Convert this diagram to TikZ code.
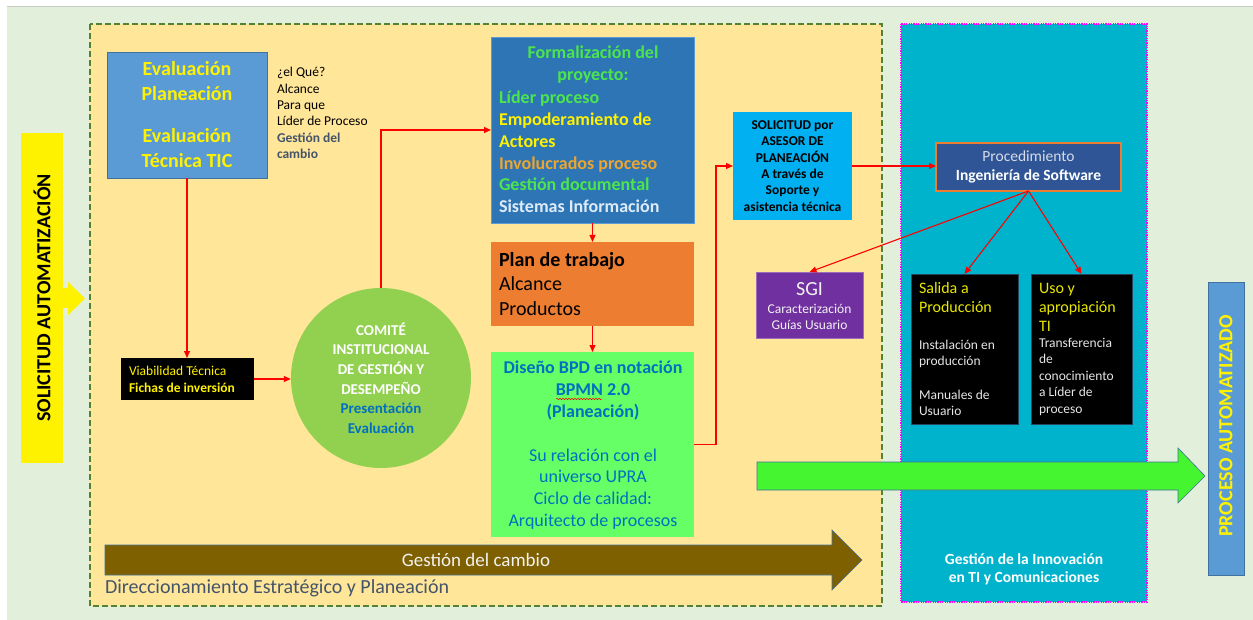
\documentclass[tikz,border=0pt]{standalone}
\usepackage{fontspec}
\setmainfont{Carlito}
\usetikzlibrary{arrows.meta,decorations.pathmorphing}

\definecolor{bgGreen}{HTML}{E2EFDA}
\definecolor{frameGrey}{HTML}{C8C8C8}
\definecolor{zoneOrange}{HTML}{FFE699}
\definecolor{zoneDash}{HTML}{548235}
\definecolor{zoneCyan}{HTML}{00B3CC}
\definecolor{zoneDot}{HTML}{FF00FF}
\definecolor{evalBlue}{HTML}{5B9BD5}
\definecolor{evalEdge}{HTML}{41719C}
\definecolor{formBlue}{HTML}{2E75B6}
\definecolor{planOrange}{HTML}{ED7D31}
\definecolor{bpdGreen}{HTML}{66FF66}
\definecolor{solBlue}{HTML}{00B0F0}
\definecolor{procBlue}{HTML}{2F5597}
\definecolor{sgiPurple}{HTML}{7030A0}
\definecolor{circGreen}{HTML}{92D050}
\definecolor{txtBlue}{HTML}{0070C0}
\definecolor{slate}{HTML}{44546A}
\definecolor{liteGreen}{HTML}{4CE64C}
\definecolor{liteOrange}{HTML}{EBA530}
\definecolor{liteWhite}{HTML}{DEEBF7}
\definecolor{boxYellow}{HTML}{E8E800}
\definecolor{paleGrey}{HTML}{E7E6E6}
\definecolor{procGrey}{HTML}{D6DCE5}
\definecolor{brownArrow}{HTML}{7F6000}
\definecolor{limeArrow}{HTML}{44F530}
\definecolor{offWhite}{HTML}{F2F2F2}
\definecolor{linkRed}{HTML}{FF0000}

\newcommand{\fsz}[2]{\fontsize{#1pt}{#2pt}\selectfont}

\tikzset{
  link/.style={draw=linkRed, line width=1.1pt, -{Triangle[length=7pt,width=6pt]}},
  panel/.style={anchor=north west, inner sep=0pt, outer sep=0pt},
  txt/.style={inner sep=0pt, outer sep=0pt},
}

\begin{document}
\begin{tikzpicture}[x=1pt,y=-1pt]
\useasboundingbox (0,0) rectangle (1253,620);
% page background
\fill[white] (0,0) rectangle (1253,620);
\fill[bgGreen] (7,7) rectangle (1253,620);
\draw[frameGrey, line width=1pt] (7,6.5) -- (1253,6.5);

% zones
\draw[fill=zoneOrange, draw=zoneDash, line width=2pt, dash pattern=on 6pt off 3pt] (90,24) rectangle (882,606);
\draw[fill=zoneCyan, draw=zoneDot, line width=2pt, dash pattern=on 1.2pt off 1.2pt] (901,24) rectangle (1147,602);

% side bars
\node[panel, fill=yellow, minimum width=42pt, minimum height=330pt] (solauto) at (21,133) {};
\node[txt, rotate=90, font=\fsz{20}{24}\bfseries] (solautotext) at (solauto.center) {SOLICITUD AUTOMATIZACIÓN};
\fill[yellow] (63,288) -- (68,288) -- (68,282) -- (85,298.5) -- (68,315) -- (68,308) -- (63,308) -- cycle;

\node[panel, fill=evalBlue, draw=evalEdge, line width=0.8pt, minimum width=36pt, minimum height=293pt] (procauto) at (1208,282) {};
\node[txt, rotate=90, font=\fsz{20}{24}\bfseries, text=yellow] (procautotext) at (1226,426) {PROCESO AUTOMATIZADO};

% change-management arrow
\draw[fill=brownArrow, draw=evalEdge, line width=0.6pt] (105,545) -- (832,545) -- (832,530) -- (862,560) -- (832,590) -- (832,575) -- (105,575) -- cycle;
\node[txt, font=\fsz{19}{23}, text=offWhite] (cambio) at (476,560) {Gestión del cambio};
\node[txt, anchor=west, font=\fsz{20}{24}, text=slate] (direcc) at (105,588) {Direccionamiento Estratégico y Planeación};

% boxes
\node[panel, fill=evalBlue, draw=evalEdge, line width=0.8pt, minimum width=160pt, minimum height=126pt] (eval) at (107,52) {};
\node[panel, fill=black, minimum width=133pt, minimum height=42pt] (viab) at (121,358) {};
\node[circle, fill=circGreen, minimum size=180pt, inner sep=0pt, align=center, font=\fsz{15}{19.6}\bfseries, text=white] (comite) at (381,378)
  {COMITÉ\\INSTITUCIONAL\\DE GESTIÓN Y\\DESEMPEÑO\\\textcolor{txtBlue}{Presentación}\\\textcolor{txtBlue}{Evaluación}};
\node[panel, fill=formBlue, draw=evalBlue, line width=0.6pt, minimum width=203pt, minimum height=186pt] (form) at (491,37) {};
\node[panel, fill=planOrange, minimum width=203pt, minimum height=84pt] (plan) at (491,242) {};
\node[panel, fill=bpdGreen, minimum width=203pt, minimum height=185pt] (bpd) at (491,352) {};
\node[panel, fill=solBlue, minimum width=119pt, minimum height=108pt] (sol) at (733,112) {};
\node[panel, fill=procBlue, draw=planOrange, line width=1.1pt, minimum width=185pt, minimum height=48pt] (proc) at (936,143) {};
\node[panel, fill=sgiPurple, draw=sgiPurple!70!white, line width=0.6pt, minimum width=107pt, minimum height=66pt] (sgi) at (756,272) {};
\node[panel, fill=black, draw=evalEdge!60!black, line width=0.6pt, minimum width=107pt, minimum height=150pt] (salida) at (911,274) {};
\node[panel, fill=black, draw=evalEdge!60!black, line width=0.6pt, minimum width=101pt, minimum height=150pt] (uso) at (1031,274) {};

% connectors
\coordinate (bendx) at (716,0);
\draw[link] (eval.south) -- (eval.south |- viab.north);
\draw[link] (viab.east) -- (viab.east -| comite.west);
\draw[link] (comite.north) |- (form.west);
\draw[link] (form.south) -- (plan.north);
\draw[link] (plan.south) -- (bpd.north);
\draw[link] (bpd.east) -- (bpd.east -| bendx) |- (sol.west);
\draw[link] (sol.east) -- (sol.east -| proc.west);
\draw[link] (proc.south) -- (sgi.north);
\draw[link] (proc.south) -- (salida.north);
\draw[link] (proc.south) -- (uso.north);

% outcome arrow
\draw[fill=limeArrow, draw=evalEdge, line width=0.6pt] (757,462) -- (1178,462) -- (1178,448) -- (1205,476) -- (1178,503) -- (1178,490) -- (757,490) -- cycle;

% texts
\node[txt, align=center, font=\fsz{20}{25}\bfseries, text=yellow] (evaltext) at (187,115)
  {Evaluación\\Planeación\\[17pt]Evaluación\\Técnica TIC};
\node[txt, anchor=west, align=left, font=\fsz{13.5}{16.4}] (evalnote) at (277,113)
  {¿el Qué?\\Alcance\\Para que\\Líder de Proceso\\\textcolor{slate}{\bfseries Gestión del}\\\textcolor{slate}{\bfseries cambio}};
\node[txt, anchor=west, align=left, font=\fsz{13.5}{17}, text=yellow] (viabtext) at (129,379)
  {Viabilidad Técnica\\\textbf{Fichas de inversión}};

\node[txt, align=center, font=\fsz{18}{21.8}\bfseries, text=liteGreen] (formhead) at (593,65)
  {Formalización del\\proyecto:};
\node[txt, anchor=west, align=left, font=\fsz{18}{21.8}\bfseries] (formlist) at (499,152)
  {\textcolor{liteGreen}{Líder proceso}\\\textcolor{yellow}{Empoderamiento de}\\\textcolor{yellow}{Actores}\\\textcolor{liteOrange}{Involucrados proceso}\\\textcolor{liteGreen}{Gestión documental}\\\textcolor{liteWhite}{Sistemas Información}};

\node[txt, anchor=west, align=left, font=\fsz{20}{24.5}] (plantext) at (499,284)
  {\textbf{Plan de trabajo}\\Alcance\\Productos};

\node[txt, align=center, font=\fsz{18}{22}\bfseries, text=txtBlue] (bpdhead) at (593,391)
  {Diseño BPD en notación\\BPMN 2.0\\(Planeación)};
\draw[linkRed, line width=0.5pt, decorate, decoration={snake, amplitude=0.7pt, segment length=3pt}] (556,399) -- (602,399);
\node[txt, align=center, font=\fsz{18}{21.7}, text=txtBlue] (bpdbody) at (593,489)
  {Su relación con el\\universo UPRA\\Ciclo de calidad:\\Arquitecto de procesos};

\node[txt, align=center, font=\fsz{13.5}{16.4}\bfseries] (soltext) at (792.5,166)
  {SOLICITUD por\\ASESOR DE\\PLANEACIÓN\\A través de\\Soporte y\\asistencia técnica};

\node[txt, align=center, font=\fsz{15.5}{19}, text=procGrey] (proctext) at (1028.5,167)
  {Procedimiento\\\textcolor{white}{\bfseries Ingeniería de Software}};

\node[txt, font=\fsz{20}{24}, text=offWhite] (sgititle) at (809.5,289) {SGI};
\node[txt, align=center, font=\fsz{13.5}{16}, text=offWhite] (sgitext) at (809.5,317)
  {Caracterización\\Guías Usuario};

\node[txt, anchor=west, align=left, font=\fsz{16}{19}, text=boxYellow] (salidahead) at (919,298)
  {Salida a\\Producción};
\node[txt, anchor=west, align=left, font=\fsz{13.5}{16.5}, text=paleGrey] (salidabody) at (919,378)
  {Instalación en\\producción\\[17pt]Manuales de\\Usuario};

\node[txt, anchor=west, align=left, font=\fsz{16}{19}, text=boxYellow] (usohead) at (1039,307)
  {Uso y\\apropiación\\TI};
\node[txt, anchor=west, align=left, font=\fsz{13.5}{16.5}, text=paleGrey] (usobody) at (1039,376.5)
  {Transferencia\\de\\conocimiento\\a Líder de\\proceso};

\node[txt, align=center, font=\fsz{15.5}{18}\bfseries, text=white] (innov) at (1024,569.5)
  {Gestión de la Innovación\\en TI y Comunicaciones};
\end{tikzpicture}
\end{document}
